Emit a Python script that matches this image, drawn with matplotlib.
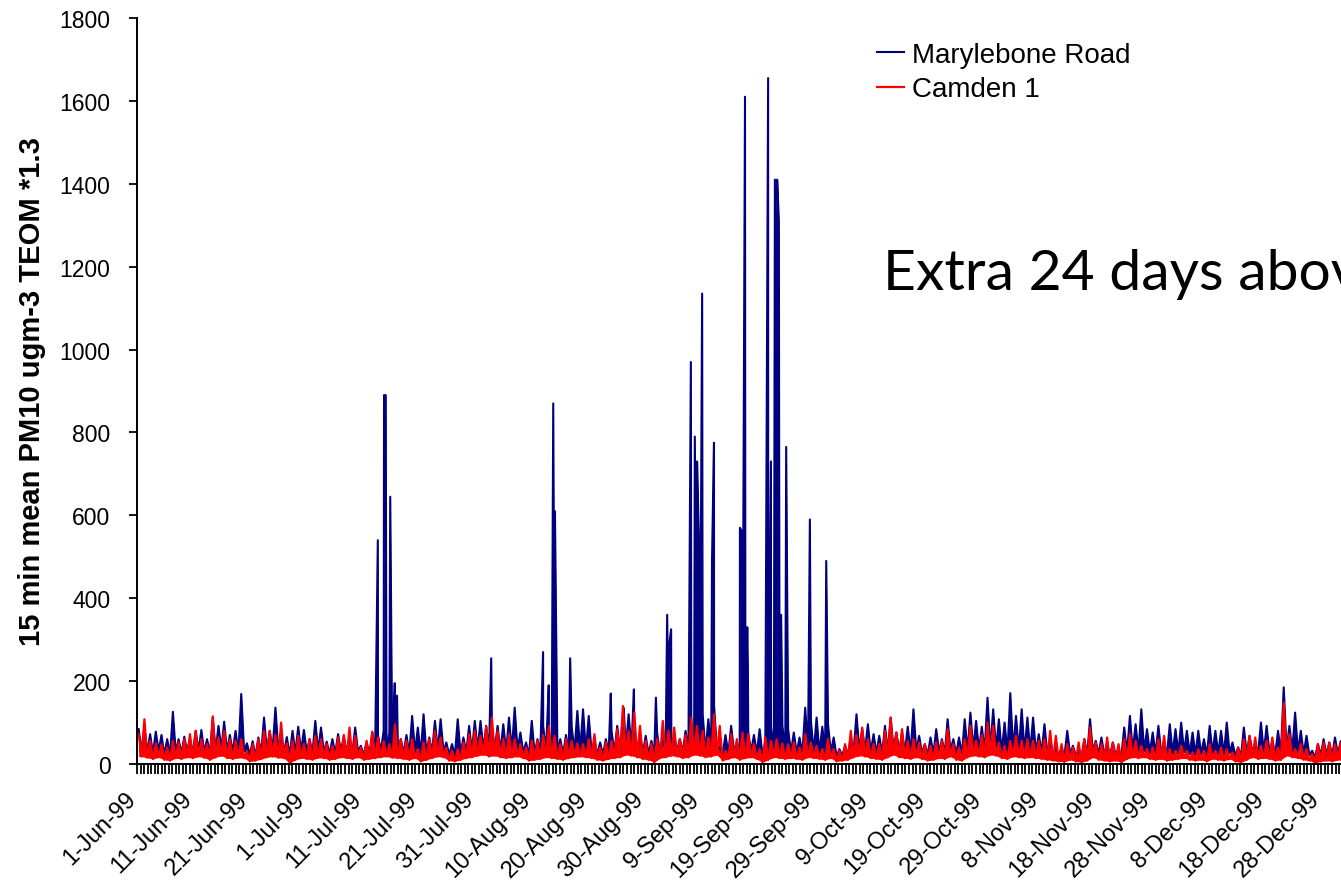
#!/usr/bin/env python3
"""
PM10 15 min means - Marylebone Road vs Camden 1 (Jun-Dec 1999)
"""

import numpy as np
import pandas as pd
import matplotlib
matplotlib.use('Agg')
import matplotlib.pyplot as plt
import matplotlib.transforms as mtransforms

# --- dati: massimi / minimi giornalieri (1 valore per giorno) ---
marylebone_hi = [
    84, 88, 72, 78, 70, 60, 126, 60, 66, 60,
    80, 82, 60, 112, 92, 102, 70, 80, 169, 50,
    55, 64, 112, 80, 136, 72, 65, 80, 90, 82,
    60, 104, 88, 54, 60, 72, 66, 64, 88, 44,
    52, 76, 70, 80, 75, 90, 60, 70, 116, 88,
    120, 64, 104, 108, 52, 48, 108, 64, 92, 104,
    104, 92, 88, 92, 96, 112, 136, 76, 52, 104,
    60, 92, 80, 76, 60, 70, 90, 128, 132, 116,
    56, 52, 60, 80, 92, 120, 120, 90, 72, 68,
    56, 75, 60, 90, 68, 60, 80, 100, 90, 120,
    108, 140, 40, 70, 92, 52, 80, 76, 70, 84,
    52, 90, 80, 92, 84, 76, 64, 136, 104, 112,
    90, 96, 64, 36, 44, 64, 120, 84, 96, 72,
    68, 92, 112, 76, 76, 90, 132, 68, 48, 64,
    84, 60, 108, 60, 64, 108, 124, 104, 90, 160,
    132, 108, 100, 171, 116, 132, 112, 112, 72, 96,
    60, 40, 40, 80, 44, 32, 60, 108, 56, 64,
    48, 52, 36, 88, 116, 96, 132, 84, 76, 92,
    52, 96, 84, 100, 80, 76, 80, 60, 92, 80,
    80, 100, 52, 40, 88, 68, 48, 100, 92, 56,
    80, 185, 92, 124, 80, 68, 32, 48, 60, 52,
    64, 55, 60, 58,
]
marylebone_lo = [
    30, 28, 25, 30, 22, 20, 28, 25, 30, 26,
    32, 28, 24, 30, 35, 30, 28, 26, 30, 22,
    18, 25, 30, 32, 35, 28, 20, 26, 30, 28,
    25, 30, 28, 24, 26, 30, 28, 26, 30, 22,
    24, 28, 30, 32, 30, 28, 26, 24, 28, 22,
    26, 28, 32, 30, 22, 20, 24, 28, 30, 34,
    36, 32, 35, 30, 28, 30, 32, 28, 20, 24,
    26, 30, 28, 26, 24, 28, 30, 32, 30, 28,
    24, 22, 26, 28, 30, 36, 34, 30, 26, 24,
    22, 28, 30, 34, 32, 28, 30, 36, 34, 30,
    32, 36, 22, 26, 30, 24, 28, 30, 26, 22,
    24, 30, 28, 26, 28, 26, 24, 30, 28, 26,
    24, 28, 18, 20, 22, 30, 34, 32, 28, 26,
    24, 30, 36, 30, 28, 26, 30, 26, 22, 24,
    28, 26, 32, 24, 22, 30, 34, 32, 30, 36,
    34, 28, 26, 32, 30, 28, 30, 28, 26, 24,
    22, 20, 18, 24, 20, 18, 22, 30, 24, 22,
    20, 22, 18, 26, 30, 28, 30, 26, 24, 26,
    22, 24, 26, 28, 24, 22, 24, 20, 26, 24,
    22, 26, 20, 18, 24, 30, 26, 28, 26, 22,
    24, 34, 30, 28, 24, 22, 16, 20, 22, 20,
    24, 22, 20, 22,
]
camden_hi = [
    72, 108, 56, 50, 48, 40, 56, 52, 60, 72,
    80, 60, 48, 115, 64, 80, 60, 56, 60, 32,
    48, 60, 80, 80, 70, 100, 50, 56, 68, 48,
    60, 68, 60, 48, 44, 64, 70, 88, 68, 40,
    56, 78, 64, 55, 48, 96, 60, 56, 60, 36,
    52, 60, 80, 64, 40, 32, 36, 52, 72, 80,
    68, 90, 112, 80, 60, 72, 60, 48, 40, 56,
    56, 70, 92, 68, 48, 60, 56, 50, 48, 60,
    72, 40, 52, 56, 84, 140, 80, 124, 92, 56,
    48, 60, 104, 80, 88, 60, 70, 112, 92, 80,
    64, 120, 92, 32, 72, 60, 76, 72, 48, 36,
    64, 56, 60, 50, 48, 52, 40, 72, 52, 44,
    36, 60, 36, 32, 48, 80, 70, 88, 60, 48,
    48, 80, 112, 76, 84, 56, 60, 52, 48, 44,
    52, 56, 84, 48, 40, 60, 92, 56, 70, 100,
    92, 52, 44, 56, 68, 56, 60, 56, 56, 60,
    80, 68, 48, 48, 40, 52, 60, 88, 52, 48,
    64, 52, 48, 60, 72, 56, 44, 36, 40, 60,
    68, 36, 32, 44, 32, 28, 36, 32, 48, 32,
    40, 36, 28, 40, 60, 68, 64, 44, 56, 64,
    40, 148, 72, 36, 48, 36, 24, 48, 52, 52,
    48, 50, 52, 48,
]
camden_lo = [
    18, 15, 12, 16, 10, 8, 14, 12, 16, 14,
    18, 15, 10, 16, 20, 14, 12, 15, 14, 6,
    8, 12, 16, 18, 15, 14, 2, 10, 14, 12,
    10, 15, 14, 10, 12, 16, 14, 12, 16, 10,
    12, 14, 16, 18, 15, 14, 12, 10, 14, 6,
    10, 14, 18, 16, 8, 6, 10, 14, 16, 20,
    22, 18, 20, 16, 14, 16, 18, 14, 8, 10,
    12, 16, 14, 12, 10, 14, 16, 18, 16, 14,
    10, 8, 12, 14, 16, 22, 20, 16, 12, 10,
    4, 14, 16, 20, 18, 14, 16, 22, 20, 16,
    18, 22, 8, 12, 16, 10, 14, 16, 12, 4,
    10, 16, 14, 12, 14, 12, 10, 16, 14, 12,
    10, 14, 6, 8, 10, 16, 20, 18, 14, 12,
    10, 16, 22, 16, 14, 12, 16, 12, 8, 10,
    14, 12, 18, 10, 8, 16, 20, 18, 16, 22,
    20, 14, 12, 18, 16, 14, 16, 14, 12, 10,
    8, 6, 5, 10, 6, 4, 8, 16, 10, 8,
    6, 8, 4, 12, 16, 14, 16, 12, 10, 12,
    8, 10, 12, 14, 10, 8, 10, 6, 12, 10,
    8, 12, 6, 4, 10, 16, 12, 14, 12, 8,
    10, 20, 16, 14, 10, 8, 3, 6, 8, 6,
    10, 8, 6, 8,
]

# picchi isolati Marylebone Road (giorno dal 1-Jun, valore)
spike_days = [42.7, 43.8, 44.1, 44.9, 45.7, 46.1, 62.8, 72.0, 73.0, 73.8,
              74.1, 76.8, 84.0, 86.3, 88.1, 92.0, 94.0, 94.3, 94.7, 98.2,
              98.9, 99.3, 99.6, 100.2, 101.95, 102.3, 106.9, 107.3, 107.8, 108.2,
              108.3, 111.9, 112.4, 113.1, 113.5, 113.8, 114.2, 115.1, 119.3, 122.2]
spike_vals = [540, 890, 890, 645, 195, 165, 255, 270, 190, 870,
              610, 255, 170, 135, 180, 160, 360, 280, 325, 970,
              790, 730, 555, 1135, 490, 775, 570, 560, 1610, 330,
              240, 1655, 730, 1410, 1410, 1310, 360, 765, 590, 490]

yticks = [0, 200, 400, 600, 800, 1000, 1200, 1400, 1600, 1800]
series_labels = ['Marylebone Road', 'Camden 1']
ylabel = '15 min mean PM10 ugm-3 TEOM *1.3'
note = 'Extra 24 days above'

STEP = 1.01  # passo delle letture (giorni)


def zigzag(hi, lo, extra_t=None, extra_v=None):
    """Serie a dente di sega hi/lo per giorno, con eventuali picchi inseriti.
    Ritorna anche l'inviluppo inferiore (minimi) sugli stessi tempi."""
    i = np.arange(len(hi))
    t_lo = (i + 0.8) * STEP
    t = np.concatenate([(i + 0.3) * STEP, t_lo])
    v = np.concatenate([hi, lo]).astype(float)
    if extra_t is not None:
        t = np.concatenate([t, extra_t])
        v = np.concatenate([v, extra_v])
    order = np.argsort(t, kind='stable')
    t, v = t[order], v[order]
    env = np.interp(t, t_lo, lo)
    return t, v, env


plt.rcParams['font.family'] = ['Liberation Sans', 'DejaVu Sans']

fig = plt.figure(figsize=(13.41, 8.87), dpi=100)
ax = fig.add_axes([137 / 1341, 122 / 887, 1207 / 1341, 746 / 887])

t_m, v_m, e_m = zigzag(marylebone_hi, marylebone_lo, spike_days, spike_vals)
t_c, v_c, e_c = zigzag(camden_hi, camden_lo)

ax.fill_between(t_m, e_m, v_m, color='#000080', linewidth=0)
ax.plot(t_m, v_m, color='#000080', linewidth=1.5, label=series_labels[0])
ax.fill_between(t_c, e_c, v_c, color='#ff0000', linewidth=0)
ax.plot(t_c, v_c, color='#ff0000', linewidth=1.6, label=series_labels[1])

ax.set_xlim(0, 214)
ax.set_ylim(0, 1800)

# assi stile Excel
for side in ['top', 'right']:
    ax.spines[side].set_visible(False)
for side in ['left', 'bottom']:
    ax.spines[side].set_linewidth(1.4)

ax.set_yticks(yticks)
ax.set_yticklabels([str(v) for v in yticks])
ax.tick_params(axis='y', direction='out', length=6, width=1.3, labelsize=16.5, pad=13)

# tacche ogni 15 ore, etichette ogni 10 giorni
tick_pos = np.arange(0, 214, 0.625)
dates = pd.date_range('1999-06-01', '1999-12-31', freq='10D')
tick_lab = [''] * len(tick_pos)
for k, d in enumerate(dates):
    tick_lab[k * 16] = f"{d.day}-{d:%b}-{d:%y}"
ax.set_xticks(tick_pos)
ax.set_xticklabels(tick_lab, rotation=45, ha='right', rotation_mode='anchor')
ax.tick_params(axis='x', direction='out', length=7, width=1.3, labelsize=17, pad=6)
shift = mtransforms.ScaledTranslation(-9 / 72, -4 / 72, fig.dpi_scale_trans)
for lab in ax.get_xticklabels():
    lab.set_transform(lab.get_transform() + shift)

ax.set_ylabel(ylabel, fontsize=21, fontweight='bold')
ax.yaxis.set_label_coords(-0.075, 0.5)

ax.legend(loc='upper left', bbox_to_anchor=(866 / 1341, 1 - 32 / 887),
          bbox_transform=fig.transFigure, frameon=False, fontsize=20,
          handlelength=0.95, handletextpad=0.3, labelspacing=0.3, borderaxespad=0)

fig.text(883 / 1341, 1 - 290 / 887, note, fontsize=41, family=['Lato', 'DejaVu Sans'],
         ha='left', va='baseline')

fig.savefig('out.png', dpi=100)
